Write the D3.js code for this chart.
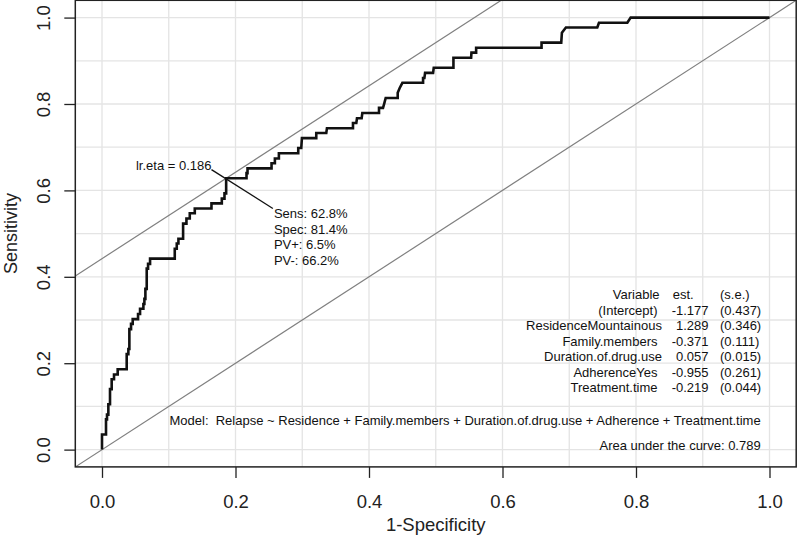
<!DOCTYPE html>
<html>
<head>
<meta charset="utf-8">
<script src="https://cdn.jsdelivr.net/npm/d3@7"></script>
<style>
  html, body { margin: 0; padding: 0; background: #fff; }
  svg { display: block; font-family: "Liberation Sans", Arial, Helvetica, sans-serif; }
</style>
</head>
<body>
<svg id="chart" width="797" height="540"></svg>
<script>
// ---- data ----
const fpr = [0,0,.006,.006,.0075,.0075,.0095,.0095,.012,.012,.0145,.0145,.018,.018,.0235,.0235,.037,
  .037,.0395,.0395,.041,.041,.0435,.0435,.046,.046,.054,.054,.057,.057,.062,.062,.0635,.0635,.065,.065,.067,.067,
  .069,.069,.072,.072,.109,.109,.112,.112,.1145,.1145,.1215,.1215,.1265,.1265,.1315,.1315,.139,.139,.164,.164,
  .1795,.1795,.1835,.1835,.186,.186,.2165,.2165,.218,.218,.254,.254,.259,.259,.265,.265,.294,.294,.2985,.2995,
  .321,.321,.336,.337,.376,.376,.381,.382,.389,.39,.415,.415,.421,.423,.425,.443,.443,.446,.45,.481,.481,.483,
  .484,.496,.497,.5265,.5265,.553,.5535,.5605,.5605,.6585,.6585,.688,.689,.695,.742,.7445,.787,.792,1];
const sens = [0,.035,.035,.070,.070,.081,.081,.105,.105,.140,.140,.163,.163,.174,.174,.186,.186,
  .221,.221,.233,.233,.279,.279,.291,.291,.302,.302,.314,.314,.326,.326,.337,.337,.349,.349,.372,.372,.419,
  .419,.430,.430,.442,.442,.465,.465,.477,.477,.488,.488,.523,.523,.535,.535,.547,.547,.558,.558,.570,
  .570,.581,.581,.593,.593,.628,.628,.640,.640,.651,.651,.663,.663,.674,.674,.686,.686,.698,.698,.721,
  .721,.733,.733,.744,.744,.756,.756,.767,.767,.779,.779,.791,.791,.802,.814,.814,.826,.837,.849,.849,.860,.860,
  .872,.872,.884,.884,.907,.907,.919,.919,.930,.930,.942,.942,.965,.977,.977,.988,.988,1,1];

const optFpr = 0.186, optSens = 0.628;
const etaLabel = "lr.eta = 0.186";
const optLabels = ["Sens: 62.8%", "Spec: 81.4%", "PV+: 6.5%", "PV-: 66.2%"];

const tickValues = [0, 0.2, 0.4, 0.6, 0.8, 1.0];
const gridValues = [0, .1, .2, .3, .4, .5, .6, .7, .8, .9, 1];

const varNames = ["Variable", "(Intercept)", "ResidenceMountainous", "Family.members",
  "Duration.of.drug.use", "AdherenceYes", "Treatment.time"];
const estimates = ["est.", "-1.177", "1.289", "-0.371", "0.057", "-0.955", "-0.219"];
const stdErrors = ["(s.e.)", "(0.437)", "(0.346)", "(0.111)", "(0.015)", "(0.261)", "(0.044)"];
const modelText = "Model:  Relapse ~ Residence + Family.members + Duration.of.drug.use + Adherence + Treatment.time";
const aucText = "Area under the curve: 0.789";
const xTitle = "1-Specificity", yTitle = "Sensitivity";

// ---- drawing ----
const svg = d3.select("#chart");
const x = d3.scaleLinear().domain([-0.04, 1.04]).range([75.3, 796.2]);
const y = d3.scaleLinear().domain([-0.04, 1.04]).range([466.9, 0.3]);

svg.append("defs").append("clipPath").attr("id", "clip")
  .append("rect").attr("x", x(-0.04)).attr("y", y(1.04))
  .attr("width", x(1.04) - x(-0.04)).attr("height", y(-0.04) - y(1.04));

// grid
const grid = svg.append("g").attr("stroke", "#e4e4e4").attr("stroke-width", 1.3);
grid.selectAll("line.v").data(gridValues).join("line")
  .attr("x1", d => x(d)).attr("x2", d => x(d)).attr("y1", y(-0.04)).attr("y2", y(1.04));
grid.selectAll("line.h").data(gridValues).join("line").attr("class", "h")
  .attr("y1", d => y(d)).attr("y2", d => y(d)).attr("x1", x(-0.04)).attr("x2", x(1.04));

// reference lines
const refs = svg.append("g").attr("clip-path", "url(#clip)").attr("stroke", "#808080").attr("stroke-width", 1.2);
refs.append("line").attr("x1", x(-0.04)).attr("y1", y(-0.04)).attr("x2", x(1.04)).attr("y2", y(1.04));
const icpt = optSens - optFpr;
refs.append("line").attr("x1", x(-0.04)).attr("y1", y(-0.04 + icpt)).attr("x2", x(1.04)).attr("y2", y(1.04 + icpt));

// ROC curve
const pts = fpr.map((f, i) => [f, sens[i]]);
svg.append("path").datum(pts)
  .attr("fill", "none").attr("stroke", "#111").attr("stroke-width", 2.6)
  .attr("stroke-linejoin", "miter")
  .attr("d", d3.line().x(d => x(d[0])).y(d => y(d[1])));

// optimum annotation
svg.append("line")
  .attr("x1", x(optFpr - 0.022)).attr("y1", y(optSens + 0.02))
  .attr("x2", x(optFpr + 0.07)).attr("y2", y(optSens - 0.07))
  .attr("stroke", "#111").attr("stroke-width", 1.3);
const ann = svg.append("g").attr("font-size", 13).attr("fill", "#111");
ann.append("text").attr("x", x(optFpr - 0.022)).attr("y", y(optSens + 0.02))
  .attr("text-anchor", "end").text(etaLabel);
ann.selectAll("text.o").data(optLabels).join("text").attr("class", "o")
  .attr("x", x(optFpr + 0.07) + 1).attr("y", (d, i) => y(optSens - 0.07) + 9.5 + i * 15.5)
  .text(d => d);

// coefficient table
const tab = svg.append("g").attr("font-size", 13).attr("fill", "#111");
const rowY = i => 299 + i * 15.5;
tab.selectAll("text.n").data(varNames).join("text").attr("class", "n")
  .attr("x", (d, i) => 657.5 + (i === 0 ? 2 : (estimates[i][0] === "-" ? 0 : 4.4)))
  .attr("y", (d, i) => rowY(i)).attr("text-anchor", "end").text(d => d);
tab.selectAll("text.e").data(estimates).join("text").attr("class", "e")
  .attr("x", (d, i) => i === 0 ? 672.7 : 708.5)
  .attr("y", (d, i) => rowY(i)).attr("text-anchor", (d, i) => i === 0 ? "start" : "end").text(d => d);
tab.selectAll("text.s").data(stdErrors).join("text").attr("class", "s")
  .attr("x", 720).attr("y", (d, i) => rowY(i)).text(d => d);
tab.append("text").attr("x", 760.7).attr("y", 425.3).attr("text-anchor", "end")
  .style("white-space", "pre").text(modelText);
tab.append("text").attr("x", 760.7).attr("y", 449.7).attr("text-anchor", "end").text(aucText);

// box
svg.append("rect").attr("x", x(-0.04)).attr("y", y(1.04))
  .attr("width", x(1.04) - x(-0.04)).attr("height", y(-0.04) - y(1.04))
  .attr("fill", "none").attr("stroke", "#222").attr("stroke-width", 1.5);

// axes
const fmt = d3.format(".1f");
const xa = svg.append("g").attr("transform", `translate(0,${y(-0.04)})`)
  .call(d3.axisBottom(x).tickValues(tickValues).tickFormat(fmt).tickSize(11).tickPadding(17).tickSizeOuter(0));
const ya = svg.append("g").attr("transform", `translate(${x(-0.04)},0)`)
  .call(d3.axisLeft(y).tickValues(tickValues).tickFormat(fmt).tickSize(11).tickSizeOuter(0));
[xa, ya].forEach(a => {
  a.select(".domain").remove();
  a.selectAll(".tick line").attr("stroke", "#222").attr("stroke-width", 1.3);
  a.selectAll("text").attr("font-size", 18.5).attr("fill", "#222")
    .attr("font-family", "Liberation Sans, Arial, sans-serif");
});
ya.selectAll("text").attr("x", null).attr("dy", null).attr("text-anchor", "middle")
  .attr("transform", "translate(-25.3,0) rotate(-90)");

// titles
svg.append("text").attr("x", (x(-0.04) + x(1.04)) / 2).attr("y", 531)
  .attr("text-anchor", "middle").attr("font-size", 18.5).attr("fill", "#222").text(xTitle);
svg.append("text").attr("transform", `translate(17,${(y(-0.04) + y(1.04)) / 2}) rotate(-90)`)
  .attr("text-anchor", "middle").attr("font-size", 18).attr("fill", "#222").text(yTitle);
</script>
</body>
</html>
